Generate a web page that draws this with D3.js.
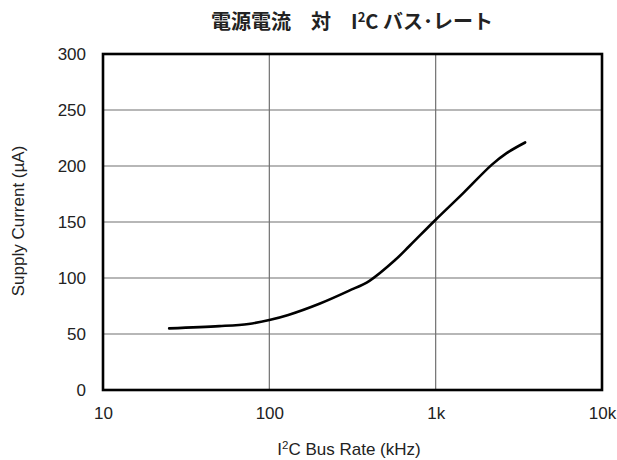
<!DOCTYPE html>
<html>
<head>
<meta charset="utf-8">
<script src="https://cdn.jsdelivr.net/npm/d3@7"></script>
<style>
  html, body { margin: 0; padding: 0; background: #fff; }
  svg text { font-family: "Liberation Sans", Arial, sans-serif; fill: #222; }
</style>
</head>
<body>
<svg id="chart" width="617" height="460"></svg>
<script>
// Supply current vs I2C bus rate
const busRateKHz = [25, 50, 75, 100, 130, 200, 300, 400, 570, 700, 1000, 1470, 2170, 2670, 3450];
const supplyCurrentUA = [55, 57, 59, 62.5, 67, 77, 88.5, 97.5, 116, 129, 152, 176, 201, 211.5, 221];
const xTickValues = [10, 100, 1000, 10000];
const xTickLabels = ["10", "100", "1k", "10k"];
const yTickValues = [0, 50, 100, 150, 200, 250, 300];

const svg = d3.select("#chart");
const plotLeft = 103, plotRight = 602, plotTop = 54, plotBottom = 390;

const x = d3.scaleLog().domain([10, 10000]).range([plotLeft, plotRight]);
const y = d3.scaleLinear().domain([0, 300]).range([plotBottom, plotTop]);

// grid
const grid = svg.append("g").attr("stroke", "#707070").attr("stroke-width", 1.2);
grid.selectAll("line.v").data(xTickValues.slice(1, -1)).join("line").attr("class", "v")
  .attr("x1", d => x(d)).attr("x2", d => x(d)).attr("y1", plotTop).attr("y2", plotBottom);
grid.selectAll("line.h").data(yTickValues.slice(1, -1)).join("line").attr("class", "h")
  .attr("x1", plotLeft).attr("x2", plotRight).attr("y1", d => y(d)).attr("y2", d => y(d));

// frame
svg.append("rect").attr("x", plotLeft).attr("y", plotTop)
  .attr("width", plotRight - plotLeft).attr("height", plotBottom - plotTop)
  .attr("fill", "none").attr("stroke", "#000").attr("stroke-width", 2.6);

// curve
const line = d3.line().x(d => x(d[0])).y(d => y(d[1])).curve(d3.curveCatmullRom.alpha(0.5));
svg.append("path")
  .datum(busRateKHz.map((v, i) => [v, supplyCurrentUA[i]]))
  .attr("d", line).attr("fill", "none").attr("stroke", "#000").attr("stroke-width", 2.6)
  .attr("stroke-linecap", "round");

// axes (labels only)
const xAxis = d3.axisBottom(x).tickValues(xTickValues)
  .tickFormat((d, i) => xTickLabels[i]).tickSize(0).tickPadding(17);
const gx = svg.append("g").attr("transform", `translate(0,${plotBottom})`).call(xAxis);
gx.select(".domain").remove();
gx.selectAll("text").attr("font-size", 17).attr("fill", "#222")
  .attr("font-family", "'Liberation Sans', Arial, sans-serif");

const yAxis = d3.axisLeft(y).tickValues(yTickValues).tickSize(0).tickPadding(17);
const gy = svg.append("g").attr("transform", `translate(${plotLeft},0)`).call(yAxis);
gy.select(".domain").remove();
gy.selectAll("text").attr("font-size", 17).attr("fill", "#222")
  .attr("font-family", "'Liberation Sans', Arial, sans-serif");

// title
const title = svg.append("text").attr("x", 352).attr("y", 29).attr("text-anchor", "middle")
  .attr("font-size", 20).attr("font-weight", "bold")
  .style("font-family", "'Noto Sans CJK JP', 'Liberation Sans', sans-serif");
title.append("tspan").text("電源電流　対　I");
title.append("tspan").attr("font-size", 13).attr("dy", -7).text("2");
title.append("tspan").attr("dy", 7).text("C バス･レート");

// x axis title
const xt = svg.append("text").attr("x", 349).attr("y", 455).attr("text-anchor", "middle")
  .attr("font-size", 17);
xt.append("tspan").text("I");
xt.append("tspan").attr("font-size", 11.5).attr("dy", -6).text("2");
xt.append("tspan").attr("dy", 6).text("C Bus Rate (kHz)");

// y axis title
svg.append("text").attr("transform", "translate(24,221) rotate(-90)")
  .attr("text-anchor", "middle").attr("font-size", 17).text("Supply Current (µA)");
</script>
</body>
</html>
